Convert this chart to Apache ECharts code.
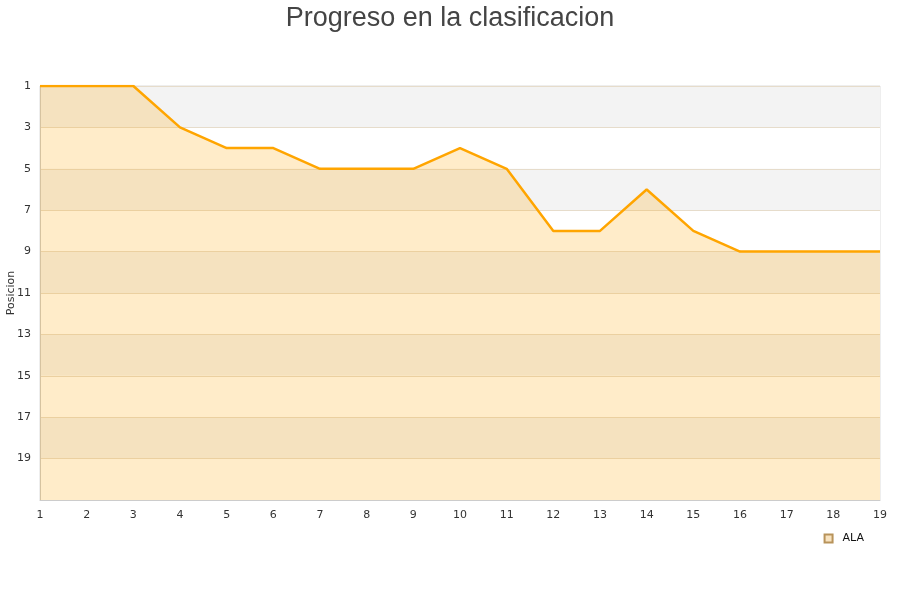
<!DOCTYPE html>
<html><head><meta charset="utf-8">
<script src="https://cdn.jsdelivr.net/npm/echarts@6/dist/echarts.min.js"></script>
<style>html,body{margin:0;padding:0;background:#fff}#c{width:900px;height:600px}</style>
</head><body><div id="c"></div>
<script>
const jornadas = ['1','2','3','4','5','6','7','8','9','10','11','12','13','14','15','16','17','18','19'];
const posiciones = [1,1,1,3,4,4,5,5,5,4,5,8,8,6,8,9,9,9,9];
const teamName = 'ALA';
const chart = echarts.init(document.getElementById('c'), null, {renderer:'canvas'});
chart.setOption({
  animation:false,
  title:{text:'Progreso en la clasificacion',left:'center',top:0,textStyle:{fontFamily:'Liberation Sans, Arial, sans-serif',fontSize:27,fontWeight:'normal',color:'#444'}},
  grid:{left:40,right:20,top:86,bottom:100,containLabel:false,outerBoundsMode:'none',show:true,borderColor:'#ddd',borderWidth:1,backgroundColor:'transparent'},
  legend:{data:[{name:teamName,icon:'rect'}],right:31,bottom:51,itemWidth:8,itemHeight:8,itemGap:5,
    formatter:n=>'{p|}{t|'+n+'}',
    textStyle:{fontFamily:'DejaVu Sans',fontSize:11,color:'#111',rich:{p:{width:5},t:{fontFamily:'DejaVu Sans',fontSize:11,color:'#111'}}}},
  xAxis:{type:'category',data:jornadas,boundaryGap:false,
    axisLine:{lineStyle:{color:'#ccc'}},axisTick:{show:false},
    axisLabel:{color:'#333',fontFamily:'DejaVu Sans',fontSize:11,margin:10},splitLine:{show:false}},
  yAxis:{type:'value',inverse:true,min:1,max:21,interval:2,name:'Posicion',nameLocation:'middle',nameGap:23,nameMoveOverlap:false,
    nameTextStyle:{fontFamily:'DejaVu Sans',fontSize:11,color:'#333'},
    axisLine:{show:true,lineStyle:{color:'#ccc'}},axisTick:{show:false},
    axisLabel:{color:'#333',fontFamily:'DejaVu Sans',fontSize:11,margin:9,formatter:v=>v===21?'':v},
    splitLine:{show:true,lineStyle:{color:'#e6dccb'}},
    splitArea:{show:true,areaStyle:{color:['#f3f3f3','#ffffff']}}},
  series:[{name:teamName,type:'line',data:posiciones,symbol:'none',
    lineStyle:{color:'#ffa500',width:2.5},itemStyle:{color:'#f8e3c0',borderColor:'#b8935a',borderWidth:1},
    areaStyle:{color:'rgba(255,165,0,0.21)',opacity:1,origin:'end'}}]
});
</script></body></html>
